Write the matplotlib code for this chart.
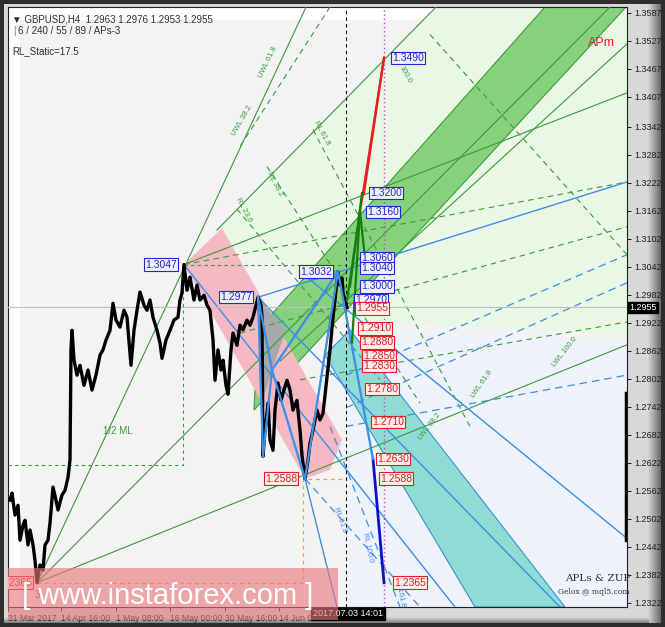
import numpy as np
import matplotlib.pyplot as plt
from matplotlib.patches import Polygon, Rectangle

# price path (bar position, price)
bar_x = [10, 12, 15, 18, 20, 23, 25, 28, 30, 33, 35, 37, 40, 43, 45, 48, 50, 53, 56, 58,
         62, 65, 68, 70, 71, 72, 74, 77, 80, 84, 88, 92, 96, 100, 103, 106, 110, 113, 116,
         120, 124, 127, 131, 134, 137, 140, 144, 147, 150, 153, 157, 160, 162, 166, 170,
         174, 178, 180, 182, 184, 187, 190, 194, 197, 200, 204, 207, 210, 213, 215, 218,
         221, 223, 226, 228, 231, 233, 237, 240, 243, 247, 250, 253, 256, 258, 261, 262,
         263, 265, 268, 270, 273, 275, 278, 281, 283, 287, 290, 293, 297, 300, 302, 305,
         308, 310, 313, 317, 320, 323, 327, 330, 333, 336, 338, 340, 342, 343, 345, 347]
bar_p = [1.2542, 1.2557, 1.2510, 1.2531, 1.2456, 1.2488, 1.2499, 1.2446, 1.2478, 1.2446,
         1.2413, 1.2365, 1.2403, 1.2392, 1.2446, 1.2456, 1.2493, 1.2570, 1.2542, 1.2521,
         1.2553, 1.2563, 1.2591, 1.2628, 1.2864, 1.2906, 1.2842, 1.2810, 1.2831, 1.2788,
         1.2821, 1.2778, 1.2810, 1.2853, 1.2864, 1.2885, 1.2906, 1.2964, 1.2928, 1.2913,
         1.2949, 1.2934, 1.2831, 1.2906, 1.2949, 1.2988, 1.2960, 1.2949, 1.2971, 1.2934,
         1.2906, 1.2879, 1.2846, 1.2885, 1.2906, 1.2928, 1.2934, 1.2971, 1.2986, 1.3047,
         1.2992, 1.3020, 1.2971, 1.3003, 1.2971, 1.2981, 1.2960, 1.2949, 1.2885, 1.2799,
         1.2864, 1.2821, 1.2842, 1.2788, 1.2769, 1.2864, 1.2900, 1.2874, 1.2917, 1.2907,
         1.2928, 1.2917, 1.2934, 1.2960, 1.2977, 1.2960, 1.2934, 1.2636, 1.2692, 1.2750,
         1.2671, 1.2649, 1.2735, 1.2793, 1.2756, 1.2771, 1.2799, 1.2778, 1.2735, 1.2756,
         1.2692, 1.2638, 1.2588, 1.2628, 1.2664, 1.2692, 1.2735, 1.2714, 1.2728, 1.2806,
         1.2864, 1.2934, 1.2992, 1.3032, 1.3003, 1.3018, 1.2986, 1.2971, 1.2955]

y_ticks = [1.3587, 1.3527, 1.3467, 1.3407, 1.3342, 1.3282, 1.3222, 1.3162, 1.3102, 1.3042,
           1.2982, 1.2922, 1.2862, 1.2802, 1.2742, 1.2682, 1.2622, 1.2562, 1.2502, 1.2442,
           1.2382, 1.2322]
x_tick_pos = [8, 61, 116, 170, 225, 279]
x_tick_lab = ['31 Mar 2017', '14 Apr 16:00', '1 May 08:00', '16 May 00:00', '30 May 16:00', '14 Jun 08']
last_price = 1.2955

# level labels: (bar, price, text)
blue_labels = [(145, 1.3047, '1.3047'), (220, 1.2977, '1.2977'), (300, 1.3032, '1.3032'),
               (392, 1.3490, '1.3490'), (370, 1.3200, '1.3200'), (367, 1.3160, '1.3160'),
               (361, 1.3060, '1.3060'), (361, 1.3040, '1.3040'), (361, 1.3000, '1.3000'),
               (355, 1.2970, '1.2970')]
red_labels = [(356, 1.2953, '1.2955'), (359, 1.2910, '1.2910'), (361, 1.2880, '1.2880'),
              (363, 1.2850, '1.2850'), (363, 1.2830, '1.2830'), (366, 1.2780, '1.2780'),
              (372, 1.2710, '1.2710'), (377, 1.2630, '1.2630'), (265, 1.2588, '1.2588'),
              (380, 1.2588, '1.2588'), (394, 1.2365, '1.2365'), (0, 1.2365, '1.2365')]

# shaded zones (bar, price)
light_green = [(205, 1.3089), (436, 1.3599), (627, 1.3599), (627, 1.2896), (346, 1.2928), (300, 1.3048)]
light_blue = [(346, 1.2907), (627, 1.2885), (627, 1.2313), (346, 1.2313)]
green_band = [(254, 1.2735), (258, 1.2907), (545, 1.3599), (626, 1.3599)]
pink_band = [(184, 1.3047), (222, 1.3125), (342, 1.2671), (330, 1.2607), (305, 1.2588)]
teal_band = [(325, 1.2853), (350, 1.2907), (565, 1.2313), (475, 1.2313)]
gray_zone = [(258, 1.2977), (286, 1.2907), (272, 1.2821), (263, 1.2757)]

# trend lines (x0, p0, x1, p1)
green_lines = [(37, 1.2365, 306, 1.3599), (37, 1.2365, 627, 1.2875), (184, 1.3047, 627, 1.3415),
               (217, 1.3121, 436, 1.3599), (37, 1.2365, 610, 1.3599), (280, 1.2840, 627, 1.3520)]
green_dashed = [(313, 1.3336, 470, 1.2700), (267, 1.3257, 420, 1.2750), (237, 1.3166, 380, 1.2800),
                (184, 1.3047, 627, 1.3224), (240, 1.2900, 627, 1.3128), (300, 1.2800, 627, 1.2924),
                (330, 1.3599, 240, 1.3300), (430, 1.3540, 627, 1.3068)]
blue_lines = [(258, 1.2977, 263, 1.2636), (263, 1.2636, 272, 1.2821), (258, 1.2977, 272, 1.2821),
              (272, 1.2821, 305, 1.2588), (272, 1.2821, 338, 1.3032), (305, 1.2588, 338, 1.3032),
              (338, 1.3032, 373, 1.2630), (258, 1.2977, 627, 1.3224), (258, 1.2977, 560, 1.2313),
              (305, 1.2588, 337, 1.2313), (184, 1.3047, 455, 1.2313), (300, 1.3032, 627, 1.2460)]
blue_dashed = [(305, 1.2588, 420, 1.2313), (346, 1.2810, 627, 1.3068), (346, 1.2740, 627, 1.3008),
               (346, 1.2700, 627, 1.2810), (330, 1.2700, 400, 1.2313)]
navy_line = (373, 1.2630, 384, 1.2365)
red_lines = [(360, 1.3160, 384, 1.3490), (364, 1.3200, 384, 1.3490)]
dkgreen_lines = [(347, 1.2970, 360, 1.3160), (360, 1.3160, 366, 1.3040), (360, 1.3160, 352, 1.2880),
                 (350, 1.3000, 362, 1.3200)]

# small rotated tags on the fork lines: (bar, price, text, angle, colour)
line_tags = [(268, 1.3480, 'UWL 61.8', 64, '#3c9a3c'), (242, 1.3355, 'UWL 38.2', 60, '#3c9a3c'),
             (322, 1.3330, 'RL 61.8', -62, '#3c9a3c'), (275, 1.3220, 'RL 38.2', -62, '#3c9a3c'),
             (244, 1.3163, 'RL 23.6', -62, '#3c9a3c'), (405, 1.3455, '100.0', -62, '#3c9a3c'),
             (565, 1.2860, 'LWL 100.0', 52, '#3c9a3c'), (482, 1.2790, 'LWL 61.8', 55, '#3c9a3c'),
             (430, 1.2700, 'LWL 38.2', 52, '#3c9a3c'), (368, 1.2440, 'RL 100.0', -78, '#3d8fe8'),
             (340, 1.2500, 'RL 61.8', -70, '#3d8fe8'), (400, 1.2345, 'RL 161.8', -78, '#3d8fe8')]
scroll_bar = (1.2772, 1.2457)

fig = plt.figure(figsize=(6.65, 6.27), dpi=100)
fig.patch.set_facecolor('#2e2e2e')
W, H = 665, 627
sans = 'Liberation Sans'

# grey window frame with bevel on the right and bottom
fig.add_artist(Rectangle((4 / W, 4 / H), 657 / W, 619 / H, transform=fig.transFigure,
                         facecolor='#d8d8d8', edgecolor='none', zorder=-3))
rb = fig.add_axes([647 / W, 4 / H, 14 / W, 619 / H], zorder=-2)
rb.imshow(np.tile(np.linspace(0.86, 0.42, 30), (10, 1)), cmap='gray', vmin=0, vmax=1,
          aspect='auto', extent=(0, 1, 0, 1))
rb.axis('off')
bb = fig.add_axes([4 / W, 4 / H, 645 / W, 6 / H], zorder=-2)
bb.imshow(np.tile(np.linspace(0.5, 0.85, 8)[:, None], (1, 10)), cmap='gray', vmin=0, vmax=1,
          aspect='auto', extent=(0, 1, 0, 1), origin='lower')
bb.axis('off')

ax = fig.add_axes([8 / W, (627 - 607) / H, (627 - 8) / W, 600 / H])
ax.set_facecolor('#ffffff')
ax.set_xlim(8, 627)
ax.set_ylim(1.2313, 1.3599)

ax.add_patch(Rectangle((20, 1.2313), 607, 0.1258, facecolor='#f3f3f3', edgecolor='none', zorder=0))
ax.add_patch(Polygon(light_green, closed=True, facecolor='#e9f8e4', edgecolor='none', zorder=1))
ax.add_patch(Polygon(light_blue, closed=True, facecolor='#eef2fb', edgecolor='none', zorder=1))
ax.add_patch(Polygon(green_band, closed=True, facecolor='#86d27c', edgecolor='#3c9a3c', lw=0.8, zorder=2))
ax.add_patch(Polygon(teal_band, closed=True, facecolor='#8fdcd4', edgecolor='#3a8fd8', lw=0.8, zorder=2))
ax.add_patch(Polygon(pink_band, closed=True, facecolor='#f6b8c2', edgecolor='none', zorder=2))
ax.add_patch(Polygon(gray_zone, closed=True, facecolor='#a8a8a8', edgecolor='none', zorder=2))

for x0, p0, x1, p1 in green_lines:
    ax.plot([x0, x1], [p0, p1], color='#3c9a3c', lw=0.8, zorder=3)
for x0, p0, x1, p1 in green_dashed:
    ax.plot([x0, x1], [p0, p1], color='#3c9a3c', lw=0.8, ls=(0, (5, 4)), zorder=3)
for x0, p0, x1, p1 in blue_lines:
    ax.plot([x0, x1], [p0, p1], color='#3d8fe8', lw=1.0, zorder=3)
for x0, p0, x1, p1 in blue_dashed:
    ax.plot([x0, x1], [p0, p1], color='#3d8fe8', lw=0.9, ls=(0, (6, 4)), zorder=3)
for x, p, t, a, c in line_tags:
    ax.text(x, p, t, color=c, fontsize=5.5, family=sans, rotation=a, ha='center', va='center',
            rotation_mode='anchor', zorder=4)

# guides
ax.axhline(last_price, color='#c0c0c0', lw=0.8, zorder=3)
ax.axvline(346, color='#000000', lw=0.8, ls=(0, (3, 3)), zorder=4)
ax.axvline(384, color='#cc44cc', lw=1.0, ls=(0, (1, 2)), zorder=4)
ax.plot([8, 183, 183], [1.2618, 1.2618, 1.3047], color='#3c9a3c', lw=0.8, ls=(0, (3, 3)), zorder=3)
ax.plot([184, 346], [1.3047, 1.3047], color='#3c9a3c', lw=0.8, ls=(0, (3, 3)), zorder=3)
ax.plot([37, 303, 303, 346], [1.2365, 1.2365, 1.2588, 1.2588], color='#f0a040', lw=0.9,
        ls=(0, (3, 3)), zorder=3)
ax.plot([626, 626], scroll_bar, color='black', lw=2.5, zorder=7)

# price
ax.plot(bar_x, bar_p, color='black', lw=2.4, zorder=5)

# projection zigzags
ax.plot(navy_line[::2], navy_line[1::2], color='#1010c8', lw=2, zorder=6)
for x0, p0, x1, p1 in blue_lines[:7]:
    ax.plot([x0, x1], [p0, p1], color='#3d8fe8', lw=1.6, zorder=6)
for x0, p0, x1, p1 in red_lines:
    ax.plot([x0, x1], [p0, p1], color='#e82020', lw=1.6, zorder=6)
for x0, p0, x1, p1 in dkgreen_lines:
    ax.plot([x0, x1], [p0, p1], color='#108010', lw=1.6, zorder=6)

lab_font = dict(fontsize=7.5, family=sans, va='center', ha='left', zorder=8)
for x, p, t in blue_labels:
    ax.text(x, p, t, color='#2828c8', clip_on=True,
            bbox=dict(boxstyle='square,pad=0.12', fc='#eef0ff', ec='#2828c8', lw=0.8), **lab_font)
for x, p, t in red_labels:
    ax.text(x, p, t, color='#e02020', clip_on=True,
            bbox=dict(boxstyle='square,pad=0.12', fc='#ffecec', ec='#e02020', lw=0.8), **lab_font)

ax.text(35, 1.2350, '3', color='#804040', fontsize=7, family=sans, va='top', zorder=8)
ax.text(103, 1.2683, '1/2 ML', color='#3c9a3c', fontsize=7, family=sans, zorder=8)
ax.text(588, 1.3515, 'APm', color='#e02020', fontsize=9, family=sans, zorder=8)
ax.text(565, 1.2368, 'APLs & ZUP', color='#333333', fontsize=7.5, family='DejaVu Serif', zorder=8)
ax.text(558, 1.2341, 'Gelox @ mql5.com', color='#333333', fontsize=5.5, family='DejaVu Serif', zorder=8)

# header
ax.text(0.007, 0.988, '\u25bc GBPUSD,H4  1.2963 1.2976 1.2953 1.2955', transform=ax.transAxes,
        fontsize=7, family=sans, color='#303030', va='top')
ax.text(0.009, 0.968, '|', transform=ax.transAxes, fontsize=7, family=sans, color='#3c9a3c', va='top')
ax.text(0.016, 0.968, '6 / 240 / 55 / 89 / APs-3', transform=ax.transAxes,
        fontsize=7, family=sans, color='#303030', va='top')
ax.text(0.007, 0.935, 'RL_Static=17.5', transform=ax.transAxes, fontsize=7, family=sans,
        color='#303030', va='top')

# watermark
fig.add_artist(Rectangle((8 / W, 7 / H), 330 / W, 52 / H, transform=fig.transFigure,
                         facecolor='#e8787c', alpha=0.62, zorder=10))
fig.text(168 / W, 23 / H, '[ www.instaforex.com ]', color='white', fontsize=21, family=sans,
         ha='center', va='baseline', zorder=11)

ax.yaxis.tick_right()
ax.set_yticks(y_ticks)
ax.set_yticklabels([f'{v:.4f}' for v in y_ticks], fontsize=6.5, family=sans, color='#202020')
ax.set_xticks(x_tick_pos)
ax.set_xticklabels(x_tick_lab, fontsize=6.2, family=sans, color='#202020', ha='left')
ax.tick_params(length=3, width=0.6, pad=2)
for s in ax.spines.values():
    s.set_color('#202020')
    s.set_linewidth(0.8)
ax.text(1.003, (last_price - 1.2313) / 0.1286, f'{last_price:.4f}', transform=ax.transAxes,
        fontsize=6.5, family=sans, color='white', va='center', ha='left',
        bbox=dict(boxstyle='square,pad=0.15', fc='black', ec='black'))
ax.text(313, 1.2308, '2017.07.03 14:01', fontsize=6.5, family=sans, color='white', va='top',
        ha='left', clip_on=False, bbox=dict(boxstyle='square,pad=0.2', fc='black', ec='black'))

fig.savefig('out.png', dpi=100, facecolor=fig.get_facecolor())
